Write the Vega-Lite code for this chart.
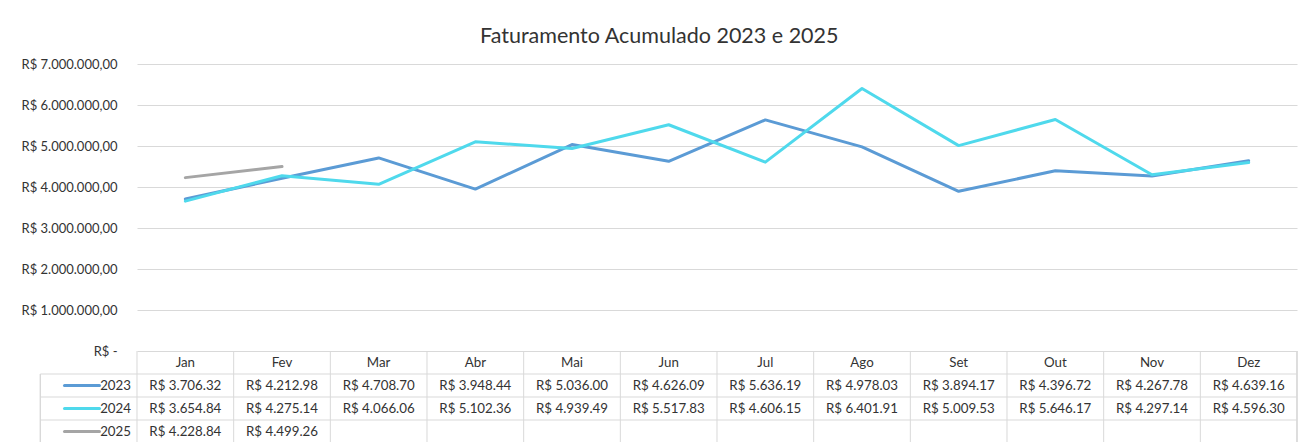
{
  "$schema": "https://vega.github.io/schema/vega-lite/v6.json",
  "autosize": {"type": "none"},
  "padding": {"left": 137, "top": 64, "right": 10, "bottom": 91},
  "width": 1160,
  "height": 287,
  "background": "white",
  "title": {"text": "Faturamento Acumulado 2023 e 2025", "fontSize": 21.5, "fontWeight": "normal", "color": "#333333", "anchor": "middle", "frame": "bounds", "offset": 11},
  "config": {
    "view": {"stroke": null},
    "font": "Lato",
    "locale": {"number": {"decimal": ".", "thousands": ".", "grouping": [3], "currency": ["R$ ", ""]}}
  },
  "datasets": {
    "fat": [
      {"month": "Jan", "year": "2023", "value": 3706.32},
      {"month": "Fev", "year": "2023", "value": 4212.98},
      {"month": "Mar", "year": "2023", "value": 4708.70},
      {"month": "Abr", "year": "2023", "value": 3948.44},
      {"month": "Mai", "year": "2023", "value": 5036.00},
      {"month": "Jun", "year": "2023", "value": 4626.09},
      {"month": "Jul", "year": "2023", "value": 5636.19},
      {"month": "Ago", "year": "2023", "value": 4978.03},
      {"month": "Set", "year": "2023", "value": 3894.17},
      {"month": "Out", "year": "2023", "value": 4396.72},
      {"month": "Nov", "year": "2023", "value": 4267.78},
      {"month": "Dez", "year": "2023", "value": 4639.16},
      {"month": "Jan", "year": "2024", "value": 3654.84},
      {"month": "Fev", "year": "2024", "value": 4275.14},
      {"month": "Mar", "year": "2024", "value": 4066.06},
      {"month": "Abr", "year": "2024", "value": 5102.36},
      {"month": "Mai", "year": "2024", "value": 4939.49},
      {"month": "Jun", "year": "2024", "value": 5517.83},
      {"month": "Jul", "year": "2024", "value": 4606.15},
      {"month": "Ago", "year": "2024", "value": 6401.91},
      {"month": "Set", "year": "2024", "value": 5009.53},
      {"month": "Out", "year": "2024", "value": 5646.17},
      {"month": "Nov", "year": "2024", "value": 4297.14},
      {"month": "Dez", "year": "2024", "value": 4596.30},
      {"month": "Jan", "year": "2025", "value": 4228.84},
      {"month": "Fev", "year": "2025", "value": 4499.26}
    ],
    "months": [
      {"month": "Jan"}, {"month": "Fev"}, {"month": "Mar"}, {"month": "Abr"},
      {"month": "Mai"}, {"month": "Jun"}, {"month": "Jul"}, {"month": "Ago"},
      {"month": "Set"}, {"month": "Out"}, {"month": "Nov"}, {"month": "Dez"}
    ],
    "years": [{"year": "2023"}, {"year": "2024"}, {"year": "2025"}]
  },
  "layer": [
    {
      "data": {"name": "fat"},
      "mark": {"type": "line", "strokeWidth": 3, "strokeCap": "round", "strokeJoin": "round"},
      "encoding": {
        "x": {"field": "month", "type": "ordinal", "scale": {"type": "point", "domain": ["Jan","Fev","Mar","Abr","Mai","Jun","Jul","Ago","Set","Out","Nov","Dez"], "padding": 0.5}, "axis": null},
        "y": {"field": "value", "type": "quantitative", "scale": {"domain": [0, 7000], "nice": false, "zero": true},
          "axis": {"title": null, "values": [0,1000,2000,3000,4000,5000,6000,7000], "labelExpr": "datum.value == 0 ? 'R$ -' : 'R$ ' + datum.value/1000 + '.000.000,00'", "grid": true, "gridColor": "#d9d9d9", "gridWidth": 1, "domain": false, "ticks": false, "labelPadding": 20, "labelFontSize": 13, "labelColor": "#333333"}},
        "color": {"field": "year", "type": "nominal", "scale": {"domain": ["2023","2024","2025"], "range": ["#5B9BD5","#4FD9EC","#A5A5A5"]}, "legend": null}
      }
    },
    {
      "layer": [
        {
          "data": {"name": "months"},
          "mark": {"type": "rule", "color": "#d9d9d9", "strokeWidth": 1},
          "encoding": {
            "x": {"field": "month", "type": "nominal", "bandPosition": 0},
            "y": {"datum": "hdr", "type": "nominal", "bandPosition": 0},
            "y2": {"datum": "2025", "bandPosition": 1}
          }
        },
        {
          "data": {"name": "years"},
          "mark": {"type": "rule", "color": "#d9d9d9", "strokeWidth": 1},
          "encoding": {
            "x": {"datum": "Dez", "type": "nominal", "bandPosition": 1},
            "y": {"datum": "hdr", "type": "nominal", "bandPosition": 0},
            "y2": {"datum": "2025", "bandPosition": 1}
          }
        },
        {
          "data": {"name": "years"},
          "mark": {"type": "rule", "color": "#d9d9d9", "strokeWidth": 1},
          "encoding": {
            "x": {"datum": "lbl", "type": "nominal", "bandPosition": 0},
            "y": {"datum": "2023", "type": "nominal", "bandPosition": 0},
            "y2": {"datum": "2025", "bandPosition": 1}
          }
        },
        {
          "data": {"name": "years"},
          "mark": {"type": "rule", "color": "#d9d9d9", "strokeWidth": 1},
          "encoding": {
            "x": {"datum": "lbl", "type": "nominal", "bandPosition": 0},
            "x2": {"datum": "Dez", "bandPosition": 1},
            "y": {"field": "year", "type": "nominal", "bandPosition": 0}
          }
        },
        {
          "data": {"name": "years"},
          "mark": {"type": "rule", "color": "#d9d9d9", "strokeWidth": 1},
          "encoding": {
            "x": {"datum": "lbl", "type": "nominal", "bandPosition": 0},
            "x2": {"datum": "Dez", "bandPosition": 1},
            "y": {"datum": "2025", "type": "nominal", "bandPosition": 1}
          }
        },
        {
          "data": {"name": "months"},
          "mark": {"type": "text", "fontSize": 13.3, "color": "#333333", "baseline": "middle", "align": "center"},
          "encoding": {
            "x": {"field": "month", "type": "nominal", "bandPosition": 0.5},
            "y": {"datum": "hdr", "type": "nominal", "bandPosition": 0.5},
            "text": {"field": "month"}
          }
        },
        {
          "data": {"name": "fat"},
          "mark": {"type": "text", "fontSize": 13.3, "color": "#333333", "baseline": "middle", "align": "center"},
          "encoding": {
            "x": {"field": "month", "type": "nominal", "bandPosition": 0.5},
            "y": {"field": "year", "type": "nominal", "bandPosition": 0.5},
            "text": {"field": "value", "type": "quantitative", "format": "$,.2f"}
          }
        },
        {
          "data": {"name": "years"},
          "mark": {"type": "text", "fontSize": 13.3, "color": "#333333", "baseline": "middle", "align": "right", "dx": -6},
          "encoding": {
            "x": {"datum": "lbl", "type": "nominal", "bandPosition": 1},
            "y": {"field": "year", "type": "nominal", "bandPosition": 0.5},
            "text": {"field": "year"}
          }
        },
        {
          "data": {"name": "years"},
          "mark": {"type": "point", "shape": "M-1,0L1,0", "size": 1225, "strokeWidth": 3, "filled": false, "opacity": 1, "strokeCap": "round", "xOffset": -55},
          "encoding": {
            "x": {"datum": "lbl", "type": "nominal", "bandPosition": 1},
            "y": {"field": "year", "type": "nominal", "bandPosition": 0.5},
            "color": {"field": "year", "type": "nominal", "legend": null}
          }
        }
      ],
      "encoding": {
        "x": {"scale": {"type": "band", "domain": ["lbl","Jan","Fev","Mar","Abr","Mai","Jun","Jul","Ago","Set","Out","Nov","Dez"], "range": [-96.67, 1160], "paddingInner": 0, "paddingOuter": 0}, "axis": null},
        "y": {"scale": {"type": "band", "domain": ["hdr","2023","2024","2025"], "range": [287, 379], "paddingInner": 0, "paddingOuter": 0}, "axis": null}
      }
    }
  ],
  "resolve": {"scale": {"x": "independent", "y": "independent"}}
}
